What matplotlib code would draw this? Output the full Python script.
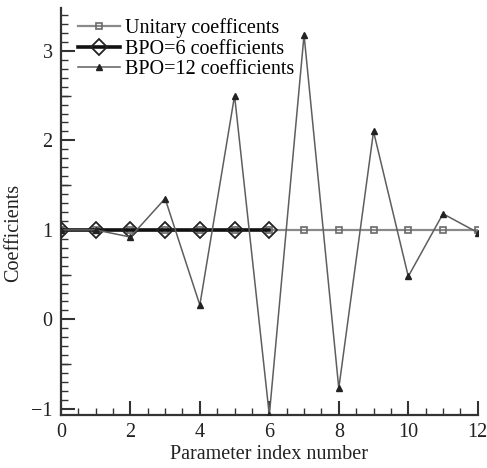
import matplotlib
matplotlib.use("Agg")
import matplotlib.pyplot as plt
import numpy as np
from matplotlib.ticker import MultipleLocator

# parameter index and coefficient values
idx = np.arange(13)
unitary = [1, 1, 1, 1, 1, 1, 1, 1, 1, 1, 1, 1, 1]
idx6 = np.arange(7)
bpo6 = [1, 1, 1, 1, 1, 1, 1]
bpo12 = [1.0, 1.0, 0.92, 1.35, 0.16, 2.5, -1.07, 3.18, -0.77, 2.1, 0.48, 1.18, 0.97]

plt.rcParams['font.family'] = ['Liberation Serif', 'DejaVu Serif']
plt.rcParams['axes.unicode_minus'] = True

fig = plt.figure(figsize=(4.87, 4.68), dpi=100)
ax = fig.add_axes([0.125, 0.113, 0.856, 0.870])

ax.plot(idx, unitary, color="#8a8a8a", lw=1.6, marker='s', ms=4,
        mfc='none', mec="#6a6a6a", mew=1.2, label="Unitary coefficents", zorder=2)
ax.plot(idx6, bpo6, color="#111111", lw=2.6, marker='D', ms=8,
        mfc='none', mec="#222222", mew=1.3, label="BPO=6 coefficients", zorder=3)
ax.plot(idx, bpo12, color="#5e5e5e", lw=1.1, marker='^', ms=4,
        mfc="#222222", mec="#222222", label="BPO=12 coefficients", zorder=4)

ax.set_xlim(0, 12)
ax.set_ylim(-1.07, 3.48)
ax.xaxis.set_major_locator(MultipleLocator(2))
ax.xaxis.set_minor_locator(MultipleLocator(0.5))
ax.yaxis.set_major_locator(MultipleLocator(1))
ax.yaxis.set_minor_locator(MultipleLocator(0.1))

for s in ['top', 'right']:
    ax.spines[s].set_visible(False)
for s in ['left', 'bottom']:
    ax.spines[s].set_linewidth(1.6)
    ax.spines[s].set_color("#333333")

ax.tick_params(which='major', direction='in', length=10, width=1.5,
               labelsize=14.5, colors="#333333", labelcolor="#222222", pad=6)
ax.tick_params(which='minor', direction='in', length=5, width=1.0, colors="#333333")

# mid-length ticks at the half units on y
sec = ax.secondary_yaxis('left')
sec.set_yticks([-0.5, 0.5, 1.5, 2.5])
sec.tick_params(direction='in', length=7.5, width=1.0, labelleft=False, colors="#333333")
sec.spines['left'].set_visible(False)

ax.set_xlabel("Parameter index number", fontsize=14.5, labelpad=2, color="#222222")
ax.set_ylabel("Coefficients", fontsize=14.5, color="#222222")
ax.yaxis.set_label_coords(-0.09, 0.447)

ax.legend(loc='upper left', bbox_to_anchor=(0.012, 1.005), frameon=False,
          fontsize=14.5, handlelength=2.1, handletextpad=0.25, labelspacing=0.08,
          borderaxespad=0.2)

fig.savefig("out.png", dpi=100)
